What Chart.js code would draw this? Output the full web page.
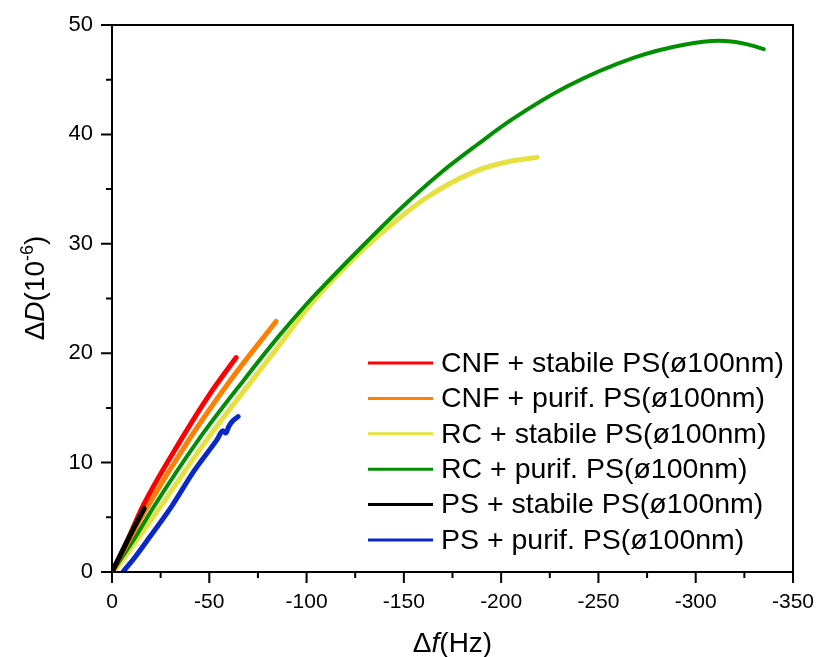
<!DOCTYPE html>
<html>
<head>
<meta charset="utf-8">
<script src="https://cdn.jsdelivr.net/npm/chart.js@4.4.0/dist/chart.umd.min.js"></script>
<style>
  body { margin: 0; background: #fff; }
  canvas { display: block; }
</style>
</head>
<body>
<canvas id="myChart" width="817" height="657"></canvas>
<script>
// tick labels
var xTicks = [0, -50, -100, -150, -200, -250, -300, -350];
var yTicks = [0, 10, 20, 30, 40, 50];

// series (x = delta f in Hz, y = delta D in 1e-6)
var cnfStabileX = [0, -8, -15.8, -35.5, -50, -63.8];
var cnfStabileY = [0, 2.9, 6.0, 12.1, 16.2, 19.6];

var cnfPurifX = [0, -18.4, -39.6, -62, -84.3];
var cnfPurifY = [0, 6.0, 12.1, 17.8, 22.9];

var rcStabileX = [-1, -12.7, -25, -48.8, -68, -85, -100, -115, -131.6, -160.6, -186.3, -203.4, -218.5];
var rcStabileY = [0, 2.9, 6.0, 12.1, 16.6, 20.5, 24.0, 27.0, 29.9, 34.1, 36.6, 37.5, 37.9];

var rcPurifX = [0, -11, -21.6, -44.5, -68, -85, -100, -109, -131.6, -150, -169, -188, -205, -234, -268, -294, -312, -326, -335];
var rcPurifY = [0, 2.9, 6.0, 12.1, 17.6, 21.4, 24.5, 26.2, 30.3, 33.5, 36.5, 39.1, 41.3, 44.4, 47.0, 48.2, 48.55, 48.25, 47.8];

var psStabileX = [0, -5, -10, -16.5];
var psStabileY = [0, 1.8, 3.6, 5.8];

var psPurifX = [-5.6, -12, -19, -31, -42, -54, -57, -58.5, -60, -62, -64.8];
var psPurifY = [0, 1.4, 3.1, 6.1, 9.2, 12.1, 12.9, 12.7, 13.3, 13.8, 14.2];

var seriesNames = [
  "CNF + stabile PS(ø100nm)",
  "CNF + purif. PS(ø100nm)",
  "RC + stabile PS(ø100nm)",
  "RC + purif. PS(ø100nm)",
  "PS + stabile PS(ø100nm)",
  "PS + purif. PS(ø100nm)"
];
var seriesColors = ["#ff0000", "#ff8000", "#e6e040", "#008f00", "#000000", "#0a28c8"];

function toPoints(xs, ys) {
  var pts = [];
  for (var i = 0; i < xs.length; i++) {
    pts.push({ x: xs[i], y: ys[i] });
  }
  return pts;
}

var allX = [cnfStabileX, cnfPurifX, rcStabileX, rcPurifX, psStabileX, psPurifX];
var allY = [cnfStabileY, cnfPurifY, rcStabileY, rcPurifY, psStabileY, psPurifY];
var widths = [5, 5, 5, 4, 5, 5];
var drawOrder = [1, 2, 4, 3, 0, 5];

var datasets = [];
for (var i = 0; i < seriesNames.length; i++) {
  datasets.push({
    label: seriesNames[i],
    data: toPoints(allX[i], allY[i]),
    borderColor: seriesColors[i],
    backgroundColor: seriesColors[i],
    borderWidth: widths[i],
    pointRadius: 0,
    cubicInterpolationMode: "monotone",
    fill: false,
    order: drawOrder[i],
    borderCapStyle: "round",
    borderJoinStyle: "round"
  });
}

var FONT = "'Liberation Sans', Arial, sans-serif";

// frame, major + minor ticks, axis titles, legend
var decorPlugin = {
  id: "decor",
  afterDraw: function (chart) {
    var ctx = chart.ctx;
    var a = chart.chartArea;
    var xs = chart.scales.x;
    var ys = chart.scales.y;
    ctx.save();
    ctx.strokeStyle = "#000";
    ctx.lineWidth = 2;
    ctx.strokeRect(a.left, a.top, a.right - a.left, a.bottom - a.top);

    ctx.beginPath();
    for (var i = 0; i < xTicks.length; i++) {
      var px = xs.getPixelForValue(xTicks[i]);
      ctx.moveTo(px, a.bottom);
      ctx.lineTo(px, a.bottom + 11);
      if (i < xTicks.length - 1) {
        var mx = xs.getPixelForValue((xTicks[i] + xTicks[i + 1]) / 2);
        ctx.moveTo(mx, a.bottom);
        ctx.lineTo(mx, a.bottom + 6);
      }
    }
    for (var j = 0; j < yTicks.length; j++) {
      var py = ys.getPixelForValue(yTicks[j]);
      ctx.moveTo(a.left, py);
      ctx.lineTo(a.left - 11, py);
      if (j < yTicks.length - 1) {
        var my = ys.getPixelForValue((yTicks[j] + yTicks[j + 1]) / 2);
        ctx.moveTo(a.left, my);
        ctx.lineTo(a.left - 6, my);
      }
    }
    ctx.stroke();

    // x title: Δf(Hz)
    ctx.fillStyle = "#000";
    ctx.textBaseline = "alphabetic";
    ctx.textAlign = "left";
    var parts = [["Δ", "28px " + FONT], ["f", "italic 28px " + FONT], ["(Hz)", "28px " + FONT]];
    var total = 0;
    for (var k = 0; k < parts.length; k++) {
      ctx.font = parts[k][1];
      total += ctx.measureText(parts[k][0]).width;
    }
    var cx = (a.left + a.right) / 2 - total / 2;
    for (var k2 = 0; k2 < parts.length; k2++) {
      ctx.font = parts[k2][1];
      ctx.fillText(parts[k2][0], cx, 652);
      cx += ctx.measureText(parts[k2][0]).width;
    }

    // y title: ΔD(10^-6)
    ctx.save();
    ctx.translate(44, 288);
    ctx.rotate(-Math.PI / 2);
    var yparts = [
      ["Δ", "28px " + FONT, 0],
      ["D", "italic 28px " + FONT, 0],
      ["(10", "28px " + FONT, 0],
      ["-6", "18px " + FONT, -11],
      [")", "28px " + FONT, 0]
    ];
    var ytotal = 0;
    for (var m = 0; m < yparts.length; m++) {
      ctx.font = yparts[m][1];
      ytotal += ctx.measureText(yparts[m][0]).width;
    }
    var cy = -ytotal / 2;
    for (var m2 = 0; m2 < yparts.length; m2++) {
      ctx.font = yparts[m2][1];
      ctx.fillText(yparts[m2][0], cy, yparts[m2][2]);
      cy += ctx.measureText(yparts[m2][0]).width;
    }
    ctx.restore();

    // legend
    ctx.font = "28.5px " + FONT;
    ctx.textBaseline = "middle";
    for (var n = 0; n < seriesNames.length; n++) {
      var ly = 363 + n * 35.4;
      ctx.strokeStyle = seriesColors[n];
      ctx.lineWidth = 3;
      ctx.beginPath();
      ctx.moveTo(368, ly);
      ctx.lineTo(433, ly);
      ctx.stroke();
      ctx.fillStyle = "#000";
      ctx.fillText(seriesNames[n], 441, ly + 1);
    }
    ctx.restore();
  }
};

function noPad(scale) {
  scale.paddingTop = 0;
  scale.paddingBottom = 0;
  scale.paddingLeft = 0;
  scale.paddingRight = 0;
}

var ctx = document.getElementById("myChart").getContext("2d");
var myChart = new Chart(ctx, {
  type: "line",
  data: { datasets: datasets },
  options: {
    responsive: false,
    animation: false,
    layout: { padding: { top: 25, right: 24, bottom: 0, left: 0 } },
    plugins: {
      legend: { display: false },
      tooltip: { enabled: false }
    },
    scales: {
      x: {
        type: "linear",
        reverse: true,
        min: -350,
        max: 0,
        grid: { display: false, drawTicks: false },
        border: { display: false },
        afterFit: function (scale) { scale.height = 85; noPad(scale); },
        afterBuildTicks: function (scale) {
          scale.ticks = xTicks.map(function (v) { return { value: v }; });
        },
        ticks: {
          padding: 18,
          color: "#000",
          font: { family: FONT, size: 21 },
          callback: function (v) { return String(v); }
        }
      },
      y: {
        type: "linear",
        min: 0,
        max: 50,
        grid: { display: false, drawTicks: false },
        border: { display: false },
        afterFit: function (scale) { scale.width = 112; noPad(scale); },
        afterBuildTicks: function (scale) {
          scale.ticks = yTicks.map(function (v) { return { value: v }; });
        },
        ticks: {
          padding: 19,
          color: "#000",
          font: { family: FONT, size: 22 },
          callback: function (v) { return String(v); }
        }
      }
    }
  },
  plugins: [decorPlugin]
});
</script>
</body>
</html>
